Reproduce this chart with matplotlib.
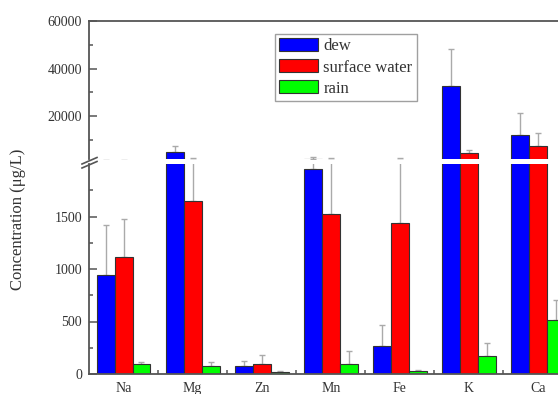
import matplotlib
matplotlib.use("Agg")
import matplotlib.pyplot as plt
import numpy as np
from matplotlib.lines import Line2D

categories = ['Na', 'Mg', 'Zn', 'Mn', 'Fe', 'K', 'Ca']
dew = [945, 5000, 80, 1950, 270, 32600, 12000]
dew_err = [475, 2370, 45, 900, 197, 15500, 9400]
surface = [1110, 1650, 98, 1520, 1435, 4550, 7370]
surface_err = [365, 720, 83, 850, 930, 1130, 5350]
rain = [98, 80, 16, 92, 25, 174, 514]
rain_err = [19, 37, 8, 127, 14, 124, 190]
series_names = ['dew', 'surface water', 'rain']

plt.rcParams['font.family'] = ['Liberation Serif', 'DejaVu Serif']

W, H = 558, 394
fig = plt.figure(figsize=(W / 100, H / 100), dpi=100)

def fx(px):
    return px / W

def fy(py):
    return 1 - py / H

left = fx(89)
width = fx(572.5) - fx(89)
ax_up = fig.add_axes([left, fy(159), width, fy(21) - fy(159)])
ax_lo = fig.add_axes([left, fy(374), width, fy(164) - fy(374)])

x = np.arange(len(categories))
bw = 0.26
offsets = [-bw, 0, bw]
colors = ['#0000ff', '#ff0000', '#00ff00']
vals = [dew, surface, rain]
errs = [dew_err, surface_err, rain_err]

spine_col = '#555555'
text_col = '#333333'

handles = []
for ax in (ax_up, ax_lo):
    for k in range(3):
        ax.errorbar(x + offsets[k], vals[k], yerr=[np.zeros(len(x)), errs[k]],
                    fmt='none', ecolor='#aaaaaa', elinewidth=1.0, capsize=2.5,
                    capthick=1.0, zorder=1)
        b = ax.bar(x + offsets[k], vals[k], bw, color=colors[k], edgecolor='#333333',
                   linewidth=0.8, zorder=2, label=series_names[k])
        if ax is ax_lo:
            handles.append(b)
    ax.set_xlim(-0.5, 6.5)
    for s in ax.spines.values():
        s.set_color(spine_col)
        s.set_linewidth(1.3)

ax_up.set_ylim(2000, 60000)
ax_up.set_yticks([20000, 40000, 60000])
ax_up.set_yticks([10000, 30000, 50000], minor=True)
ax_up.spines['bottom'].set_visible(False)
ax_up.set_xticks([])
ax_up.tick_params(axis='y', which='major', direction='in', length=6, width=1.1,
                  color=spine_col, labelsize=10, labelcolor=text_col, pad=5)
ax_up.tick_params(axis='y', which='minor', direction='in', length=3, width=1.1,
                  color=spine_col)

ax_lo.set_ylim(0, 2000)
ax_lo.set_yticks([0, 500, 1000, 1500])
ax_lo.set_yticks([250, 750, 1250, 1750], minor=True)
ax_lo.spines['top'].set_visible(False)
ax_lo.set_xticks(x)
ax_lo.set_xticklabels(categories)
ax_lo.set_xticks(x[:-1] + 0.5, minor=True)
ax_lo.tick_params(axis='both', which='major', direction='in', length=4, width=1.1,
                  color=spine_col, labelsize=10, labelcolor=text_col, pad=5)
ax_lo.tick_params(axis='y', which='major', length=6)
ax_lo.tick_params(axis='both', which='minor', direction='in', length=3, width=1.1,
                  color=spine_col)
ax_lo.tick_params(axis='x', which='major', pad=6)

# break marks on the left axis
for (x0, y0, x1, y1) in [(82, 164, 97, 157.5), (82, 168, 97, 161.5)]:
    fig.add_artist(Line2D([fx(x0), fx(x1)], [fy(y0), fy(y1)], color=spine_col,
                          lw=1.2, transform=fig.transFigure))

fig.text(fx(18), fy(219), 'Concentration (μg/L)', rotation=90, ha='center',
         va='center', fontsize=12, color=text_col)

leg = fig.legend(handles=handles, labels=series_names, loc='upper left',
                 bbox_to_anchor=(fx(275), fy(34)), fontsize=12, frameon=True,
                 fancybox=False, handlelength=2.35, handleheight=0.8,
                 handletextpad=0.3, labelspacing=0.3, borderpad=0.25,
                 borderaxespad=0)
leg.get_frame().set_edgecolor('#888888')
leg.get_frame().set_linewidth(1.0)
for t in leg.get_texts():
    t.set_color(text_col)

fig.savefig('out.png', dpi=100)
